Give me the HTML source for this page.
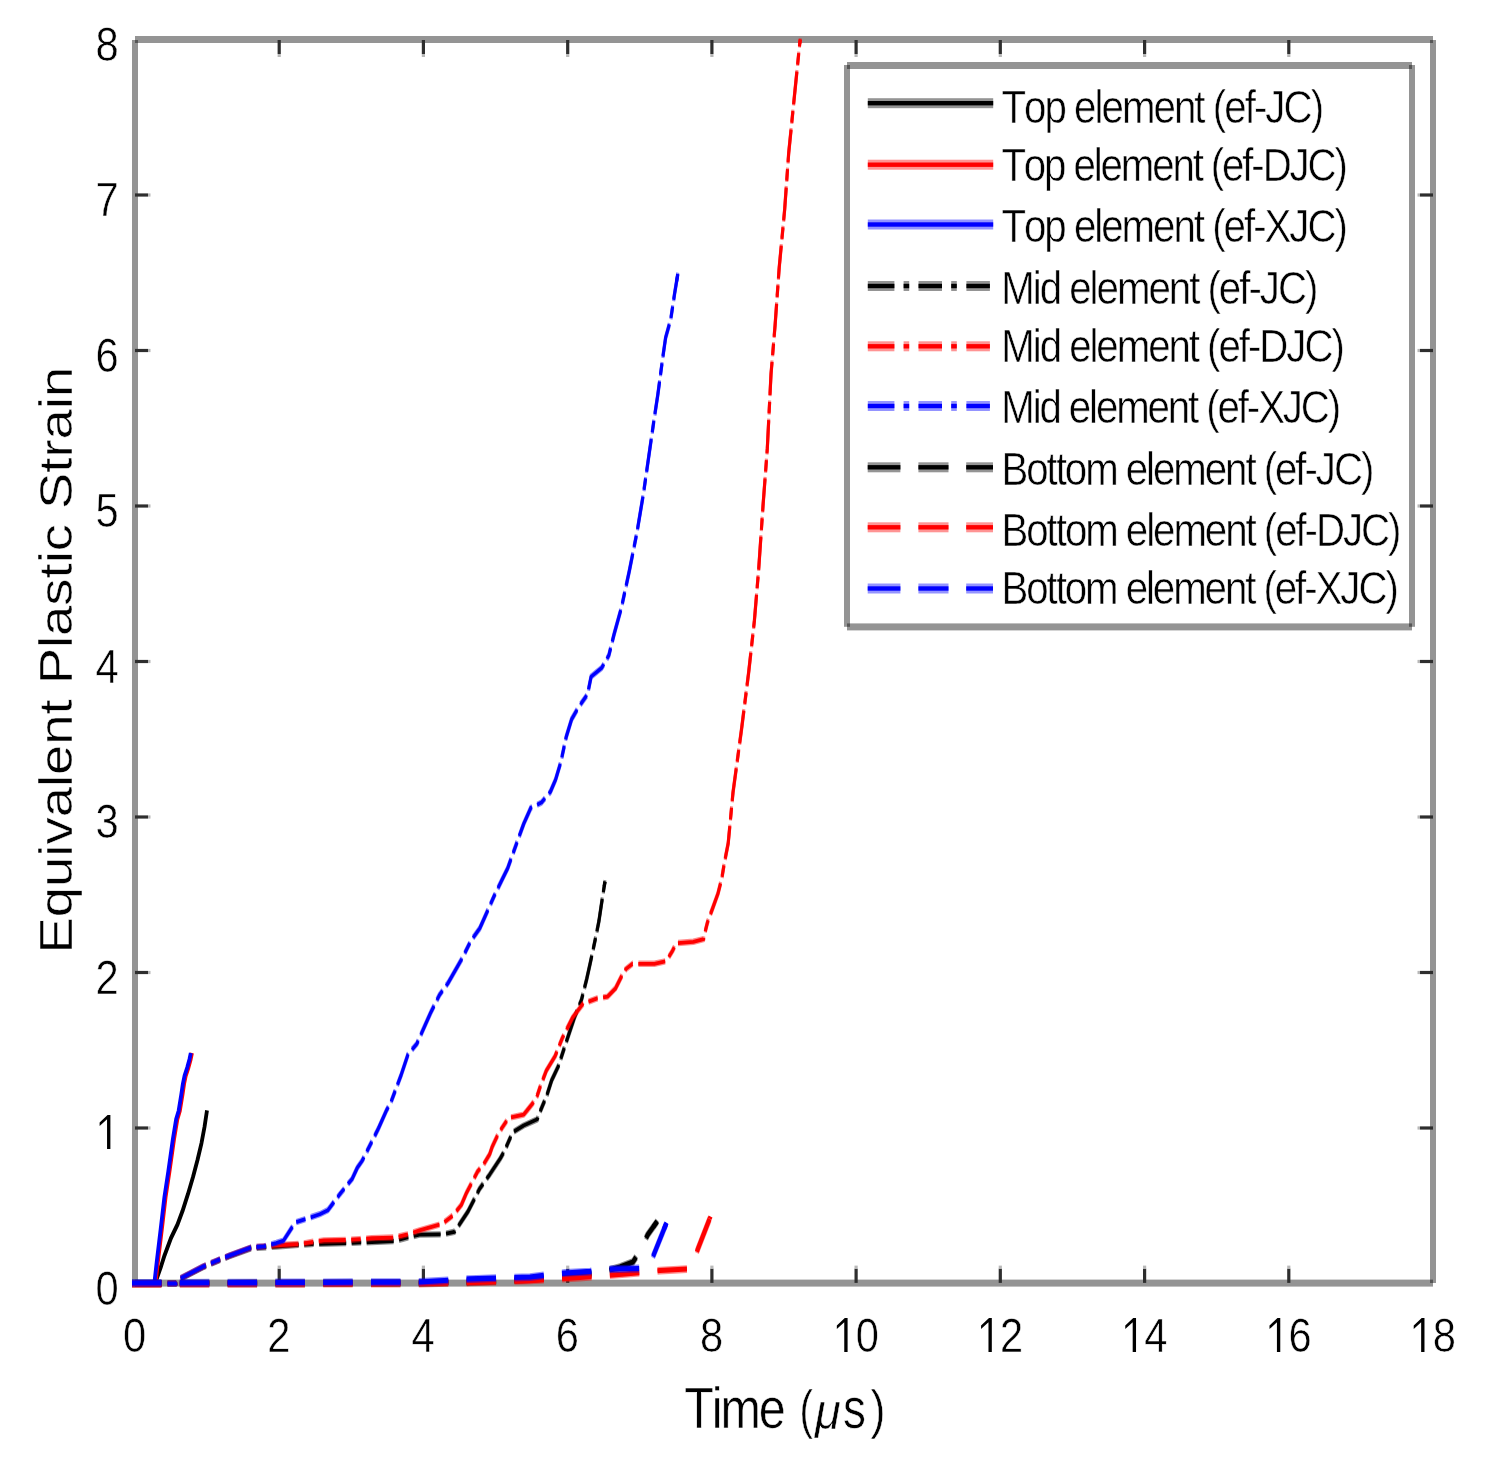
<!DOCTYPE html>
<html><head><meta charset="utf-8"><title>Equivalent Plastic Strain</title><style>html,body{margin:0;padding:0;background:#fff;width:1485px;height:1466px;overflow:hidden;position:relative}</style></head><body>
<svg width="1485" height="1466" viewBox="0 0 1485 1466" style="position:absolute;left:0;top:0;will-change:transform">
<rect x="0" y="0" width="1485" height="1466" fill="#fff"/>
<rect x="135" y="36" width="1298" height="7" fill="#000" fill-opacity="0.42"/>
<rect x="135" y="1279.6" width="1298" height="7" fill="#000" fill-opacity="0.42"/>
<rect x="132" y="40" width="6" height="1243" fill="#000" fill-opacity="0.42"/>
<rect x="1430" y="40" width="6" height="1243" fill="#000" fill-opacity="0.42"/>
<rect x="135" y="1126.4" width="13" height="3.2" fill="#2e2e2e"/>
<rect x="148" y="1126.4" width="2.5" height="3.2" fill="#b8b8b8"/>
<rect x="1420" y="1126.4" width="13" height="3.2" fill="#2e2e2e"/>
<rect x="1417.5" y="1126.4" width="2.5" height="3.2" fill="#b8b8b8"/>
<rect x="135" y="970.9" width="13" height="3.2" fill="#2e2e2e"/>
<rect x="148" y="970.9" width="2.5" height="3.2" fill="#b8b8b8"/>
<rect x="1420" y="970.9" width="13" height="3.2" fill="#2e2e2e"/>
<rect x="1417.5" y="970.9" width="2.5" height="3.2" fill="#b8b8b8"/>
<rect x="135" y="815.4" width="13" height="3.2" fill="#2e2e2e"/>
<rect x="148" y="815.4" width="2.5" height="3.2" fill="#b8b8b8"/>
<rect x="1420" y="815.4" width="13" height="3.2" fill="#2e2e2e"/>
<rect x="1417.5" y="815.4" width="2.5" height="3.2" fill="#b8b8b8"/>
<rect x="135" y="659.9" width="13" height="3.2" fill="#2e2e2e"/>
<rect x="148" y="659.9" width="2.5" height="3.2" fill="#b8b8b8"/>
<rect x="1420" y="659.9" width="13" height="3.2" fill="#2e2e2e"/>
<rect x="1417.5" y="659.9" width="2.5" height="3.2" fill="#b8b8b8"/>
<rect x="135" y="504.4" width="13" height="3.2" fill="#2e2e2e"/>
<rect x="148" y="504.4" width="2.5" height="3.2" fill="#b8b8b8"/>
<rect x="1420" y="504.4" width="13" height="3.2" fill="#2e2e2e"/>
<rect x="1417.5" y="504.4" width="2.5" height="3.2" fill="#b8b8b8"/>
<rect x="135" y="348.9" width="13" height="3.2" fill="#2e2e2e"/>
<rect x="148" y="348.9" width="2.5" height="3.2" fill="#b8b8b8"/>
<rect x="1420" y="348.9" width="13" height="3.2" fill="#2e2e2e"/>
<rect x="1417.5" y="348.9" width="2.5" height="3.2" fill="#b8b8b8"/>
<rect x="135" y="193.4" width="13" height="3.2" fill="#2e2e2e"/>
<rect x="148" y="193.4" width="2.5" height="3.2" fill="#b8b8b8"/>
<rect x="1420" y="193.4" width="13" height="3.2" fill="#2e2e2e"/>
<rect x="1417.5" y="193.4" width="2.5" height="3.2" fill="#b8b8b8"/>
<rect x="277.6" y="40" width="3.2" height="14" fill="#2e2e2e"/>
<rect x="277.6" y="54" width="3.2" height="3" fill="#b8b8b8"/>
<rect x="277.6" y="1268.6" width="3.2" height="14.3" fill="#2e2e2e"/>
<rect x="277.6" y="1265.6" width="3.2" height="3" fill="#b8b8b8"/>
<rect x="421.8" y="40" width="3.2" height="14" fill="#2e2e2e"/>
<rect x="421.8" y="54" width="3.2" height="3" fill="#b8b8b8"/>
<rect x="421.8" y="1268.6" width="3.2" height="14.3" fill="#2e2e2e"/>
<rect x="421.8" y="1265.6" width="3.2" height="3" fill="#b8b8b8"/>
<rect x="566.1" y="40" width="3.2" height="14" fill="#2e2e2e"/>
<rect x="566.1" y="54" width="3.2" height="3" fill="#b8b8b8"/>
<rect x="566.1" y="1268.6" width="3.2" height="14.3" fill="#2e2e2e"/>
<rect x="566.1" y="1265.6" width="3.2" height="3" fill="#b8b8b8"/>
<rect x="710.3" y="40" width="3.2" height="14" fill="#2e2e2e"/>
<rect x="710.3" y="54" width="3.2" height="3" fill="#b8b8b8"/>
<rect x="710.3" y="1268.6" width="3.2" height="14.3" fill="#2e2e2e"/>
<rect x="710.3" y="1265.6" width="3.2" height="3" fill="#b8b8b8"/>
<rect x="854.5" y="40" width="3.2" height="14" fill="#2e2e2e"/>
<rect x="854.5" y="54" width="3.2" height="3" fill="#b8b8b8"/>
<rect x="854.5" y="1268.6" width="3.2" height="14.3" fill="#2e2e2e"/>
<rect x="854.5" y="1265.6" width="3.2" height="3" fill="#b8b8b8"/>
<rect x="998.7" y="40" width="3.2" height="14" fill="#2e2e2e"/>
<rect x="998.7" y="54" width="3.2" height="3" fill="#b8b8b8"/>
<rect x="998.7" y="1268.6" width="3.2" height="14.3" fill="#2e2e2e"/>
<rect x="998.7" y="1265.6" width="3.2" height="3" fill="#b8b8b8"/>
<rect x="1143.0" y="40" width="3.2" height="14" fill="#2e2e2e"/>
<rect x="1143.0" y="54" width="3.2" height="3" fill="#b8b8b8"/>
<rect x="1143.0" y="1268.6" width="3.2" height="14.3" fill="#2e2e2e"/>
<rect x="1143.0" y="1265.6" width="3.2" height="3" fill="#b8b8b8"/>
<rect x="1287.2" y="40" width="3.2" height="14" fill="#2e2e2e"/>
<rect x="1287.2" y="54" width="3.2" height="3" fill="#b8b8b8"/>
<rect x="1287.2" y="1268.6" width="3.2" height="14.3" fill="#2e2e2e"/>
<rect x="1287.2" y="1265.6" width="3.2" height="3" fill="#b8b8b8"/>
<g transform="translate(0,1283.5) scale(1,1.23) translate(0,-1283.5)">
<path d="M155.0,1283.5 L158.0,1276.6 L161.0,1269.7 L164.5,1260.7 L171.0,1246.5 L177.5,1235.5 L182.5,1224.6 L188.0,1210.7 L193.0,1196.9 L197.5,1183.1 L201.5,1169.3 L204.5,1156.3 L207.0,1142.8" fill="none" stroke="#000" stroke-width="3.8" stroke-linejoin="round"/>
<path d="M155.0,1283.5 L155.9,1280.8 L157.9,1266.0 L161.8,1239.7 L165.6,1213.3 L169.5,1192.3 L174.1,1165.9 L177.3,1150.1 L179.8,1143.3 L182.5,1129.9 L184.1,1121.1 L185.8,1114.4 L188.5,1107.7 L190.7,1101.1 L192.0,1096.1" fill="none" stroke="#f00" stroke-width="3.8" stroke-linejoin="round"/>
<path d="M153.8,1283.5 L154.7,1280.8 L156.7,1266.0 L160.6,1239.7 L164.4,1213.3 L168.3,1192.3 L172.9,1165.9 L176.1,1150.1 L178.6,1143.3 L181.3,1129.9 L182.9,1121.1 L184.6,1114.4 L187.3,1107.7 L189.5,1101.1 L190.8,1096.1" fill="none" stroke="#00f" stroke-width="3.8" stroke-linejoin="round"/>
<path d="M135.0,1282.4 L176.0,1282.4 L180.9,1278.5 L202.5,1269.4 L216.0,1264.6 L229.4,1260.2 L251.0,1253.7 L276.0,1252.4 L311.8,1250.3 L346.8,1249.5 L371.7,1248.7 L394.6,1247.9 L407.4,1245.0 L419.5,1242.7 L442.4,1242.5 L454.5,1240.4 L468.0,1223.9 L479.5,1205.5 L489.6,1194.0 L500.5,1180.6 L504.6,1174.5 L510.0,1164.5 L512.7,1159.5 L523.7,1154.0 L537.3,1148.9 L540.0,1142.8 L546.8,1129.6 L551.6,1117.4 L558.4,1105.7 L565.6,1087.6 L574.4,1066.3 L581.4,1052.0 L586.7,1035.0 L590.2,1022.1 L595.4,1002.2 L598.9,988.0 L601.5,973.7 L604.2,959.5 L605.0,955.6" fill="none" stroke="#000" stroke-opacity="0.45" stroke-width="3.1" stroke-linejoin="round" stroke-dasharray="27 5.5 9.5 5.5"/>
<path d="M135.0,1284.6 L176.0,1284.6 L180.9,1280.6 L202.5,1271.5 L216.0,1266.7 L229.4,1262.4 L251.0,1255.9 L276.0,1254.5 L311.8,1252.4 L346.8,1251.6 L371.7,1250.8 L394.6,1250.0 L407.4,1247.2 L419.5,1244.8 L442.4,1244.6 L454.5,1242.5 L468.0,1226.0 L479.5,1207.6 L489.6,1196.1 L500.5,1182.7 L504.6,1176.6 L510.0,1166.6 L512.7,1161.6 L523.7,1156.1 L537.3,1151.1 L540.0,1145.0 L546.8,1131.7 L551.6,1119.5 L558.4,1107.8 L565.6,1089.8 L574.4,1068.4 L581.4,1054.2 L586.7,1037.1 L590.2,1024.2 L595.4,1004.3 L598.9,990.1 L601.5,975.9 L604.2,961.6 L605.0,957.7" fill="none" stroke="#000" stroke-opacity="0.45" stroke-width="3.1" stroke-linejoin="round" stroke-dasharray="27 5.5 9.5 5.5"/>
<path d="M135.0,1283.5 L176.0,1283.5 L180.9,1279.5 L202.5,1270.4 L216.0,1265.6 L229.4,1261.3 L251.0,1254.8 L276.0,1253.4 L311.8,1251.4 L346.8,1250.6 L371.7,1249.8 L394.6,1248.9 L407.4,1246.1 L419.5,1243.7 L442.4,1243.6 L454.5,1241.5 L468.0,1225.0 L479.5,1206.6 L489.6,1195.0 L500.5,1181.6 L504.6,1175.5 L510.0,1165.5 L512.7,1160.6 L523.7,1155.0 L537.3,1150.0 L540.0,1143.9 L546.8,1130.7 L551.6,1118.5 L558.4,1106.8 L565.6,1088.7 L574.4,1067.3 L581.4,1053.1 L586.7,1036.0 L590.2,1023.2 L595.4,1003.3 L598.9,989.0 L601.5,974.8 L604.2,960.6 L605.0,956.7" fill="none" stroke="#000" stroke-width="3.1" stroke-linejoin="round" stroke-dasharray="27 5.5 9.5 5.5"/>
<path d="M604.2,960.6 L605.0,956.7" fill="none" stroke="#000" stroke-width="3.1"/>
<path d="M135.0,1282.4 L176.0,1282.4 L180.9,1278.1 L202.5,1268.9 L216.0,1264.2 L229.4,1259.8 L251.0,1253.2 L263.9,1252.3 L276.3,1251.4 L300.0,1250.3 L311.8,1248.7 L323.9,1247.5 L346.8,1247.1 L359.6,1246.4 L371.7,1245.6 L394.6,1245.0 L407.4,1242.5 L419.5,1239.3 L442.4,1233.8 L453.2,1226.9 L461.3,1218.6 L466.6,1208.6 L477.5,1191.5 L483.5,1185.8 L489.6,1177.6 L492.3,1171.1 L497.1,1162.8 L501.8,1156.2 L508.6,1147.9 L523.7,1145.1 L527.1,1141.8 L532.5,1136.3 L537.3,1129.6 L540.0,1122.9 L546.2,1109.6 L555.1,1097.6 L562.1,1083.3 L572.6,1066.3 L583.2,1054.9 L597.2,1050.7 L607.7,1049.2 L615.5,1042.5 L622.0,1032.0 L625.9,1026.8 L632.4,1022.5 L654.4,1022.5 L666.1,1020.4 L672.5,1012.0 L676.4,1005.7 L693.3,1004.6 L703.6,1002.5 L704.9,997.2 L707.5,988.8 L712.7,977.2 L717.9,965.6 L721.8,953.0 L724.4,940.3 L728.2,924.6 L733.0,883.3 L741.5,832.0 L748.7,785.4 L754.4,743.5 L758.7,701.5 L763.0,650.3 L767.3,603.7 L771.0,543.3 L775.1,503.3 L779.2,456.6 L784.6,409.9 L788.7,363.3 L794.2,318.9 L799.7,274.5 L800.3,271.1" fill="none" stroke="#f00" stroke-opacity="0.45" stroke-width="3.1" stroke-linejoin="round" stroke-dasharray="27 5.5 9.5 5.5"/>
<path d="M135.0,1284.6 L176.0,1284.6 L180.9,1280.2 L202.5,1271.1 L216.0,1266.3 L229.4,1261.9 L251.0,1255.3 L263.9,1254.4 L276.3,1253.5 L300.0,1252.4 L311.8,1250.8 L323.9,1249.6 L346.8,1249.2 L359.6,1248.5 L371.7,1247.7 L394.6,1247.2 L407.4,1244.6 L419.5,1241.4 L442.4,1235.9 L453.2,1229.0 L461.3,1220.7 L466.6,1210.7 L477.5,1193.7 L483.5,1187.9 L489.6,1179.7 L492.3,1173.3 L497.1,1165.0 L501.8,1158.3 L508.6,1150.0 L523.7,1147.2 L527.1,1143.9 L532.5,1138.4 L537.3,1131.7 L540.0,1125.0 L546.2,1111.7 L555.1,1099.7 L562.1,1085.5 L572.6,1068.4 L583.2,1057.0 L597.2,1052.8 L607.7,1051.3 L615.5,1044.6 L622.0,1034.1 L625.9,1028.9 L632.4,1024.6 L654.4,1024.6 L666.1,1022.5 L672.5,1014.1 L676.4,1007.8 L693.3,1006.8 L703.6,1004.6 L704.9,999.4 L707.5,990.9 L712.7,979.4 L717.9,967.7 L721.8,955.1 L724.4,942.4 L728.2,926.7 L733.0,885.4 L741.5,834.2 L748.7,787.5 L754.4,745.6 L758.7,703.7 L763.0,652.4 L767.3,605.9 L771.0,545.4 L775.1,505.4 L779.2,458.7 L784.6,412.0 L788.7,365.5 L794.2,321.0 L799.7,276.6 L800.3,273.2" fill="none" stroke="#f00" stroke-opacity="0.45" stroke-width="3.1" stroke-linejoin="round" stroke-dasharray="27 5.5 9.5 5.5"/>
<path d="M135.0,1283.5 L176.0,1283.5 L180.9,1279.2 L202.5,1270.0 L216.0,1265.2 L229.4,1260.8 L251.0,1254.2 L263.9,1253.3 L276.3,1252.4 L300.0,1251.4 L311.8,1249.8 L323.9,1248.5 L346.8,1248.1 L359.6,1247.5 L371.7,1246.7 L394.6,1246.1 L407.4,1243.6 L419.5,1240.3 L442.4,1234.9 L453.2,1228.0 L461.3,1219.7 L466.6,1209.7 L477.5,1192.6 L483.5,1186.8 L489.6,1178.6 L492.3,1172.2 L497.1,1163.9 L501.8,1157.2 L508.6,1148.9 L523.7,1146.2 L527.1,1142.8 L532.5,1137.3 L537.3,1130.7 L540.0,1124.0 L546.2,1110.7 L555.1,1098.6 L562.1,1084.4 L572.6,1067.3 L583.2,1055.9 L597.2,1051.7 L607.7,1050.2 L615.5,1043.6 L622.0,1033.0 L625.9,1027.8 L632.4,1023.6 L654.4,1023.6 L666.1,1021.5 L672.5,1013.0 L676.4,1006.8 L693.3,1005.7 L703.6,1003.6 L704.9,998.3 L707.5,989.8 L712.7,978.3 L717.9,966.7 L721.8,954.1 L724.4,941.4 L728.2,925.6 L733.0,884.3 L741.5,833.1 L748.7,786.4 L754.4,744.6 L758.7,702.6 L763.0,651.4 L767.3,604.8 L771.0,544.3 L775.1,504.3 L779.2,457.6 L784.6,411.0 L788.7,364.4 L794.2,319.9 L799.7,275.5 L800.3,272.1" fill="none" stroke="#f00" stroke-width="3.1" stroke-linejoin="round" stroke-dasharray="27 5.5 9.5 5.5"/>
<path d="M799.7,275.5 L800.3,272.1" fill="none" stroke="#f00" stroke-width="3.1"/>
<path d="M135.0,1282.4 L176.0,1282.4 L180.9,1278.1 L202.5,1268.9 L216.0,1264.2 L229.4,1259.8 L251.0,1253.2 L263.9,1252.3 L276.3,1249.5 L283.5,1247.6 L295.2,1232.8 L307.7,1229.4 L319.8,1226.1 L327.9,1222.8 L340.0,1209.7 L352.2,1197.3 L357.3,1188.3 L362.3,1182.5 L378.5,1156.3 L386.6,1141.5 L390.5,1136.0 L401.0,1113.3 L408.0,1096.2 L416.8,1087.6 L430.8,1062.0 L439.5,1047.8 L448.3,1037.8 L462.3,1017.9 L471.0,1003.7 L479.8,993.7 L493.8,968.1 L502.4,953.5 L507.7,944.8 L516.6,924.6 L523.7,908.8 L530.8,895.8 L541.4,891.5 L550.3,882.8 L555.6,872.8 L560.9,858.3 L566.2,838.1 L571.6,823.7 L578.7,813.7 L587.5,803.6 L591.1,789.1 L601.7,782.0 L608.8,771.9 L614.1,754.6 L621.5,732.8 L629.3,703.3 L637.0,671.6 L643.5,640.0 L648.7,610.5 L653.9,581.0 L657.8,559.9 L663.0,528.3 L665.6,513.6 L670.7,498.8 L674.6,477.7 L677.8,461.7" fill="none" stroke="#00f" stroke-opacity="0.45" stroke-width="3.1" stroke-linejoin="round" stroke-dasharray="27 5.5 9.5 5.5"/>
<path d="M135.0,1284.6 L176.0,1284.6 L180.9,1280.2 L202.5,1271.1 L216.0,1266.3 L229.4,1261.9 L251.0,1255.3 L263.9,1254.4 L276.3,1251.6 L283.5,1249.7 L295.2,1235.0 L307.7,1231.5 L319.8,1228.2 L327.9,1225.0 L340.0,1211.8 L352.2,1199.4 L357.3,1190.4 L362.3,1184.6 L378.5,1158.4 L386.6,1143.6 L390.5,1138.1 L401.0,1115.4 L408.0,1098.3 L416.8,1089.8 L430.8,1064.2 L439.5,1049.9 L448.3,1039.9 L462.3,1020.0 L471.0,1005.8 L479.8,995.8 L493.8,970.2 L502.4,955.6 L507.7,946.9 L516.6,926.8 L523.7,910.9 L530.8,897.9 L541.4,893.6 L550.3,885.0 L555.6,874.9 L560.9,860.4 L566.2,840.2 L571.6,825.9 L578.7,815.8 L587.5,805.7 L591.1,791.2 L601.7,784.1 L608.8,774.0 L614.1,756.7 L621.5,734.9 L629.3,705.4 L637.0,673.7 L643.5,642.1 L648.7,612.6 L653.9,583.1 L657.8,562.0 L663.0,530.4 L665.6,515.7 L670.7,500.9 L674.6,479.8 L677.8,463.8" fill="none" stroke="#00f" stroke-opacity="0.45" stroke-width="3.1" stroke-linejoin="round" stroke-dasharray="27 5.5 9.5 5.5"/>
<path d="M135.0,1283.5 L176.0,1283.5 L180.9,1279.2 L202.5,1270.0 L216.0,1265.2 L229.4,1260.8 L251.0,1254.2 L263.9,1253.3 L276.3,1250.6 L283.5,1248.6 L295.2,1233.9 L307.7,1230.5 L319.8,1227.2 L327.9,1223.9 L340.0,1210.7 L352.2,1198.4 L357.3,1189.4 L362.3,1183.6 L378.5,1157.3 L386.6,1142.5 L390.5,1137.1 L401.0,1114.3 L408.0,1097.2 L416.8,1088.7 L430.8,1063.1 L439.5,1048.9 L448.3,1038.9 L462.3,1018.9 L471.0,1004.7 L479.8,994.7 L493.8,969.1 L502.4,954.6 L507.7,945.9 L516.6,925.7 L523.7,909.8 L530.8,896.8 L541.4,892.5 L550.3,883.9 L555.6,873.8 L560.9,859.4 L566.2,839.2 L571.6,824.8 L578.7,814.7 L587.5,804.6 L591.1,790.2 L601.7,783.0 L608.8,772.9 L614.1,755.6 L621.5,733.8 L629.3,704.3 L637.0,672.7 L643.5,641.1 L648.7,611.5 L653.9,582.0 L657.8,561.0 L663.0,529.4 L665.6,514.6 L670.7,499.8 L674.6,478.8 L677.8,462.8" fill="none" stroke="#00f" stroke-width="3.1" stroke-linejoin="round" stroke-dasharray="27 5.5 9.5 5.5"/>
<path d="M676.6,468.7 L677.8,462.8" fill="none" stroke="#00f" stroke-width="3.1"/>
<path d="M132.0,1282.4 L420.0,1282.0 L470.0,1281.2 L520.0,1279.6 L560.0,1277.2 L600.0,1273.9 L620.0,1269.0 L633.0,1265.0 L639.0,1257.2 L647.7,1242.8 L657.2,1232.0" fill="none" stroke="#000" stroke-opacity="0.45" stroke-width="4.2" stroke-linejoin="round" stroke-dasharray="29.5 18.3"/>
<path d="M132.0,1284.6 L420.0,1284.2 L470.0,1283.3 L520.0,1281.7 L560.0,1279.3 L600.0,1276.0 L620.0,1271.1 L633.0,1267.1 L639.0,1259.3 L647.7,1245.0 L657.2,1234.1" fill="none" stroke="#000" stroke-opacity="0.45" stroke-width="4.2" stroke-linejoin="round" stroke-dasharray="29.5 18.3"/>
<path d="M132.0,1283.5 L420.0,1283.1 L470.0,1282.3 L520.0,1280.7 L560.0,1278.2 L600.0,1275.0 L620.0,1270.1 L633.0,1266.0 L639.0,1258.2 L647.7,1243.9 L657.2,1233.0" fill="none" stroke="#000" stroke-width="4.2" stroke-linejoin="round" stroke-dasharray="29.5 18.3"/>
<path d="M653.3,1237.5 L657.2,1233.0" fill="none" stroke="#000" stroke-width="4.2"/>
<path d="M132.0,1282.8 L420.0,1282.4 L470.0,1281.6 L530.0,1280.0 L580.0,1277.6 L625.0,1274.7 L660.0,1271.9 L688.0,1270.7 L692.0,1268.2 L697.6,1255.0 L709.7,1229.8 L710.5,1228.0" fill="none" stroke="#f00" stroke-opacity="0.45" stroke-width="4.2" stroke-linejoin="round" stroke-dasharray="29.5 18.3"/>
<path d="M132.0,1285.0 L420.0,1284.6 L470.0,1283.7 L530.0,1282.1 L580.0,1279.7 L625.0,1276.8 L660.0,1274.0 L688.0,1272.8 L692.0,1270.3 L697.6,1257.1 L709.7,1231.9 L710.5,1230.1" fill="none" stroke="#f00" stroke-opacity="0.45" stroke-width="4.2" stroke-linejoin="round" stroke-dasharray="29.5 18.3"/>
<path d="M132.0,1283.9 L420.0,1283.5 L470.0,1282.7 L530.0,1281.1 L580.0,1278.6 L625.0,1275.8 L660.0,1272.9 L688.0,1271.7 L692.0,1269.3 L697.6,1256.0 L709.7,1230.8 L710.5,1229.0" fill="none" stroke="#f00" stroke-width="4.2" stroke-linejoin="round" stroke-dasharray="29.5 18.3"/>
<path d="M709.7,1230.8 L710.5,1229.0" fill="none" stroke="#f00" stroke-width="4.2"/>
<path d="M132.0,1282.0 L420.0,1281.2 L470.0,1278.8 L530.0,1277.2 L565.0,1273.9 L590.0,1272.7 L612.0,1270.7 L640.0,1270.2 L650.0,1266.6 L653.1,1260.4 L666.6,1233.0" fill="none" stroke="#00f" stroke-opacity="0.45" stroke-width="4.2" stroke-linejoin="round" stroke-dasharray="29.5 18.3"/>
<path d="M132.0,1284.2 L420.0,1283.3 L470.0,1280.9 L530.0,1279.3 L565.0,1276.0 L590.0,1274.8 L612.0,1272.8 L640.0,1272.4 L650.0,1268.7 L653.1,1262.5 L666.6,1235.1" fill="none" stroke="#00f" stroke-opacity="0.45" stroke-width="4.2" stroke-linejoin="round" stroke-dasharray="29.5 18.3"/>
<path d="M132.0,1283.1 L420.0,1282.3 L470.0,1279.8 L530.0,1278.2 L565.0,1275.0 L590.0,1273.7 L612.0,1271.7 L640.0,1271.3 L650.0,1267.6 L653.1,1261.5 L666.6,1234.1" fill="none" stroke="#00f" stroke-width="4.2" stroke-linejoin="round" stroke-dasharray="29.5 18.3"/>
<path d="M663.9,1239.5 L666.6,1234.1" fill="none" stroke="#00f" stroke-width="4.2"/>
</g>
<text transform="translate(95.41,1304.50) scale(0.86,1)" font-family='"Liberation Sans", sans-serif' font-size="48.5" fill="#000" stroke="#fff" stroke-width="0.55" style="font-kerning:none">0</text>
<path transform="translate(95.41,1149.00) scale(0.04171,0.04850)" d="M359,0 L359,-703 L292,-703 L101,-545 L101,-472 L279,-612 L279,0 Z" fill="#000"/>
<text transform="translate(95.41,993.50) scale(0.86,1)" font-family='"Liberation Sans", sans-serif' font-size="48.5" fill="#000" stroke="#fff" stroke-width="0.55" style="font-kerning:none">2</text>
<text transform="translate(95.41,838.00) scale(0.86,1)" font-family='"Liberation Sans", sans-serif' font-size="48.5" fill="#000" stroke="#fff" stroke-width="0.55" style="font-kerning:none">3</text>
<text transform="translate(95.41,682.50) scale(0.86,1)" font-family='"Liberation Sans", sans-serif' font-size="48.5" fill="#000" stroke="#fff" stroke-width="0.55" style="font-kerning:none">4</text>
<text transform="translate(95.41,527.00) scale(0.86,1)" font-family='"Liberation Sans", sans-serif' font-size="48.5" fill="#000" stroke="#fff" stroke-width="0.55" style="font-kerning:none">5</text>
<text transform="translate(95.41,371.50) scale(0.86,1)" font-family='"Liberation Sans", sans-serif' font-size="48.5" fill="#000" stroke="#fff" stroke-width="0.55" style="font-kerning:none">6</text>
<text transform="translate(95.41,216.00) scale(0.86,1)" font-family='"Liberation Sans", sans-serif' font-size="48.5" fill="#000" stroke="#fff" stroke-width="0.55" style="font-kerning:none">7</text>
<text transform="translate(95.41,60.50) scale(0.86,1)" font-family='"Liberation Sans", sans-serif' font-size="48.5" fill="#000" stroke="#fff" stroke-width="0.55" style="font-kerning:none">8</text>
<text transform="translate(123.10,1352.00) scale(0.86,1)" font-family='"Liberation Sans", sans-serif' font-size="48.5" fill="#000" stroke="#fff" stroke-width="0.55" style="font-kerning:none">0</text>
<text transform="translate(267.33,1352.00) scale(0.86,1)" font-family='"Liberation Sans", sans-serif' font-size="48.5" fill="#000" stroke="#fff" stroke-width="0.55" style="font-kerning:none">2</text>
<text transform="translate(411.55,1352.00) scale(0.86,1)" font-family='"Liberation Sans", sans-serif' font-size="48.5" fill="#000" stroke="#fff" stroke-width="0.55" style="font-kerning:none">4</text>
<text transform="translate(555.77,1352.00) scale(0.86,1)" font-family='"Liberation Sans", sans-serif' font-size="48.5" fill="#000" stroke="#fff" stroke-width="0.55" style="font-kerning:none">6</text>
<text transform="translate(699.99,1352.00) scale(0.86,1)" font-family='"Liberation Sans", sans-serif' font-size="48.5" fill="#000" stroke="#fff" stroke-width="0.55" style="font-kerning:none">8</text>
<path transform="translate(832.62,1352.00) scale(0.04171,0.04850)" d="M359,0 L359,-703 L292,-703 L101,-545 L101,-472 L279,-612 L279,0 Z" fill="#000"/>
<text transform="translate(855.81,1352.00) scale(0.86,1)" font-family='"Liberation Sans", sans-serif' font-size="48.5" fill="#000" stroke="#fff" stroke-width="0.55" style="font-kerning:none">0</text>
<path transform="translate(976.84,1352.00) scale(0.04171,0.04850)" d="M359,0 L359,-703 L292,-703 L101,-545 L101,-472 L279,-612 L279,0 Z" fill="#000"/>
<text transform="translate(1000.03,1352.00) scale(0.86,1)" font-family='"Liberation Sans", sans-serif' font-size="48.5" fill="#000" stroke="#fff" stroke-width="0.55" style="font-kerning:none">2</text>
<path transform="translate(1121.06,1352.00) scale(0.04171,0.04850)" d="M359,0 L359,-703 L292,-703 L101,-545 L101,-472 L279,-612 L279,0 Z" fill="#000"/>
<text transform="translate(1144.26,1352.00) scale(0.86,1)" font-family='"Liberation Sans", sans-serif' font-size="48.5" fill="#000" stroke="#fff" stroke-width="0.55" style="font-kerning:none">4</text>
<path transform="translate(1265.29,1352.00) scale(0.04171,0.04850)" d="M359,0 L359,-703 L292,-703 L101,-545 L101,-472 L279,-612 L279,0 Z" fill="#000"/>
<text transform="translate(1288.48,1352.00) scale(0.86,1)" font-family='"Liberation Sans", sans-serif' font-size="48.5" fill="#000" stroke="#fff" stroke-width="0.55" style="font-kerning:none">6</text>
<path transform="translate(1409.51,1352.00) scale(0.04171,0.04850)" d="M359,0 L359,-703 L292,-703 L101,-545 L101,-472 L279,-612 L279,0 Z" fill="#000"/>
<text transform="translate(1432.70,1352.00) scale(0.86,1)" font-family='"Liberation Sans", sans-serif' font-size="48.5" fill="#000" stroke="#fff" stroke-width="0.55" style="font-kerning:none">8</text>
<rect x="847" y="65" width="565" height="560" fill="#fff"/>
<rect x="847" y="62" width="565" height="7" fill="#000" fill-opacity="0.42"/>
<rect x="847" y="623.4" width="565" height="7" fill="#000" fill-opacity="0.42"/>
<rect x="844" y="65" width="6" height="561.8" fill="#000" fill-opacity="0.42"/>
<rect x="1409" y="65" width="6" height="561.8" fill="#000" fill-opacity="0.42"/>
<text transform="translate(1001.40,122.60) scale(0.8600,1)" font-family='"Liberation Sans", sans-serif' font-size="46.8" fill="#000" stroke="#fff" stroke-width="0.55" style="font-kerning:none;letter-spacing:-2.265px">Top element (ef-JC)</text>
<rect x="867.8" y="98.2" width="125.4" height="10" fill="#000" fill-opacity="0.42"/>
<rect x="867.8" y="101.0" width="125.4" height="4.4" fill="#000"/>
<text transform="translate(1001.40,180.70) scale(0.8600,1)" font-family='"Liberation Sans", sans-serif' font-size="46.8" fill="#000" stroke="#fff" stroke-width="0.55" style="font-kerning:none;letter-spacing:-2.462px">Top element (ef-DJC)</text>
<rect x="867.8" y="159.7" width="125.4" height="10" fill="#f00" fill-opacity="0.42"/>
<rect x="867.8" y="162.5" width="125.4" height="4.4" fill="#f00"/>
<text transform="translate(1001.40,242.20) scale(0.8600,1)" font-family='"Liberation Sans", sans-serif' font-size="46.8" fill="#000" stroke="#fff" stroke-width="0.55" style="font-kerning:none;letter-spacing:-2.326px">Top element (ef-XJC)</text>
<rect x="867.8" y="219.5" width="125.4" height="10" fill="#00f" fill-opacity="0.42"/>
<rect x="867.8" y="222.3" width="125.4" height="4.4" fill="#00f"/>
<text transform="translate(1001.30,304.30) scale(0.8600,1)" font-family='"Liberation Sans", sans-serif' font-size="46.8" fill="#000" stroke="#fff" stroke-width="0.55" style="font-kerning:none;letter-spacing:-2.337px">Mid element (ef-JC)</text>
<rect x="867.8" y="281.0" width="26.6" height="10" fill="#000" fill-opacity="0.42"/>
<rect x="867.8" y="283.8" width="26.6" height="4.4" fill="#000"/>
<rect x="903.6" y="281.0" width="5.6" height="10" fill="#000" fill-opacity="0.42"/>
<rect x="903.6" y="283.8" width="5.6" height="4.4" fill="#000"/>
<rect x="918.5" y="281.0" width="23.5" height="10" fill="#000" fill-opacity="0.42"/>
<rect x="918.5" y="283.8" width="23.5" height="4.4" fill="#000"/>
<rect x="951.2" y="281.0" width="5.6" height="10" fill="#000" fill-opacity="0.42"/>
<rect x="951.2" y="283.8" width="5.6" height="4.4" fill="#000"/>
<rect x="966.4" y="281.0" width="23.5" height="10" fill="#000" fill-opacity="0.42"/>
<rect x="966.4" y="283.8" width="23.5" height="4.4" fill="#000"/>
<text transform="translate(1001.30,361.90) scale(0.8600,1)" font-family='"Liberation Sans", sans-serif' font-size="46.8" fill="#000" stroke="#fff" stroke-width="0.55" style="font-kerning:none;letter-spacing:-2.371px">Mid element (ef-DJC)</text>
<rect x="867.8" y="341.3" width="26.6" height="10" fill="#f00" fill-opacity="0.42"/>
<rect x="867.8" y="344.1" width="26.6" height="4.4" fill="#f00"/>
<rect x="903.6" y="341.3" width="5.6" height="10" fill="#f00" fill-opacity="0.42"/>
<rect x="903.6" y="344.1" width="5.6" height="4.4" fill="#f00"/>
<rect x="918.5" y="341.3" width="23.5" height="10" fill="#f00" fill-opacity="0.42"/>
<rect x="918.5" y="344.1" width="23.5" height="4.4" fill="#f00"/>
<rect x="951.2" y="341.3" width="5.6" height="10" fill="#f00" fill-opacity="0.42"/>
<rect x="951.2" y="344.1" width="5.6" height="4.4" fill="#f00"/>
<rect x="966.4" y="341.3" width="23.5" height="10" fill="#f00" fill-opacity="0.42"/>
<rect x="966.4" y="344.1" width="23.5" height="4.4" fill="#f00"/>
<text transform="translate(1001.30,423.30) scale(0.8600,1)" font-family='"Liberation Sans", sans-serif' font-size="46.8" fill="#000" stroke="#fff" stroke-width="0.55" style="font-kerning:none;letter-spacing:-2.455px">Mid element (ef-XJC)</text>
<rect x="867.8" y="401.0" width="26.6" height="10" fill="#00f" fill-opacity="0.42"/>
<rect x="867.8" y="403.8" width="26.6" height="4.4" fill="#00f"/>
<rect x="903.6" y="401.0" width="5.6" height="10" fill="#00f" fill-opacity="0.42"/>
<rect x="903.6" y="403.8" width="5.6" height="4.4" fill="#00f"/>
<rect x="918.5" y="401.0" width="23.5" height="10" fill="#00f" fill-opacity="0.42"/>
<rect x="918.5" y="403.8" width="23.5" height="4.4" fill="#00f"/>
<rect x="951.2" y="401.0" width="5.6" height="10" fill="#00f" fill-opacity="0.42"/>
<rect x="951.2" y="403.8" width="5.6" height="4.4" fill="#00f"/>
<rect x="966.4" y="401.0" width="23.5" height="10" fill="#00f" fill-opacity="0.42"/>
<rect x="966.4" y="403.8" width="23.5" height="4.4" fill="#00f"/>
<text transform="translate(1001.50,484.70) scale(0.8600,1)" font-family='"Liberation Sans", sans-serif' font-size="46.8" fill="#000" stroke="#fff" stroke-width="0.55" style="font-kerning:none;letter-spacing:-2.382px">Bottom element (ef-JC)</text>
<rect x="867.7" y="462.3" width="32.7" height="10" fill="#000" fill-opacity="0.42"/>
<rect x="867.7" y="465.1" width="32.7" height="4.4" fill="#000"/>
<rect x="918.4" y="462.3" width="30.1" height="10" fill="#000" fill-opacity="0.42"/>
<rect x="918.4" y="465.1" width="30.1" height="4.4" fill="#000"/>
<rect x="966.2" y="462.3" width="26.8" height="10" fill="#000" fill-opacity="0.42"/>
<rect x="966.2" y="465.1" width="26.8" height="4.4" fill="#000"/>
<text transform="translate(1001.50,546.10) scale(0.8600,1)" font-family='"Liberation Sans", sans-serif' font-size="46.8" fill="#000" stroke="#fff" stroke-width="0.55" style="font-kerning:none;letter-spacing:-2.373px">Bottom element (ef-DJC)</text>
<rect x="867.7" y="522.3" width="32.7" height="10" fill="#f00" fill-opacity="0.42"/>
<rect x="867.7" y="525.1" width="32.7" height="4.4" fill="#f00"/>
<rect x="918.4" y="522.3" width="30.1" height="10" fill="#f00" fill-opacity="0.42"/>
<rect x="918.4" y="525.1" width="30.1" height="4.4" fill="#f00"/>
<rect x="966.2" y="522.3" width="26.8" height="10" fill="#f00" fill-opacity="0.42"/>
<rect x="966.2" y="525.1" width="26.8" height="4.4" fill="#f00"/>
<text transform="translate(1001.50,604.40) scale(0.8600,1)" font-family='"Liberation Sans", sans-serif' font-size="46.8" fill="#000" stroke="#fff" stroke-width="0.55" style="font-kerning:none;letter-spacing:-2.398px">Bottom element (ef-XJC)</text>
<rect x="867.7" y="583.5" width="32.7" height="10" fill="#00f" fill-opacity="0.42"/>
<rect x="867.7" y="586.3" width="32.7" height="4.4" fill="#00f"/>
<rect x="918.4" y="583.5" width="30.1" height="10" fill="#00f" fill-opacity="0.42"/>
<rect x="918.4" y="586.3" width="30.1" height="4.4" fill="#00f"/>
<rect x="966.2" y="583.5" width="26.8" height="10" fill="#00f" fill-opacity="0.42"/>
<rect x="966.2" y="586.3" width="26.8" height="4.4" fill="#00f"/>
<text transform="translate(684.31,1427.80) scale(0.8400,1)" font-family='"Liberation Sans", sans-serif' font-size="57.7" fill="#000" stroke="#fff" stroke-width="0.55" style="font-kerning:none;letter-spacing:-2.525px">Time</text>
<text transform="translate(799.40,1427.61) scale(0.6994,0.9450)" font-family='"Liberation Sans", sans-serif' font-size="57.7" fill="#000" stroke="#fff" stroke-width="0.55" style="font-kerning:none">(</text>
<text transform="translate(815.08,1429.33) scale(0.8121,0.8639)" font-family='"Liberation Sans", sans-serif' font-size="57.7" font-style="italic" fill="#000" stroke="#fff" stroke-width="0.55" style="font-kerning:none">μ</text>
<text transform="translate(843.12,1427.80) scale(0.7949,1)" font-family='"Liberation Sans", sans-serif' font-size="57.7" fill="#000" stroke="#fff" stroke-width="0.55" style="font-kerning:none">s</text>
<text transform="translate(870.44,1427.61) scale(0.7779,0.9450)" font-family='"Liberation Sans", sans-serif' font-size="57.7" fill="#000" stroke="#fff" stroke-width="0.55" style="font-kerning:none">)</text>
<text transform="translate(72.0,953.46) rotate(-90) scale(0.9430,0.8061)" font-family='"Liberation Sans", sans-serif' font-size="57.7" fill="#000" stroke="#fff" stroke-width="0.55" style="font-kerning:none">Equivalent Plastic Strain</text>
</svg>
</body></html>
